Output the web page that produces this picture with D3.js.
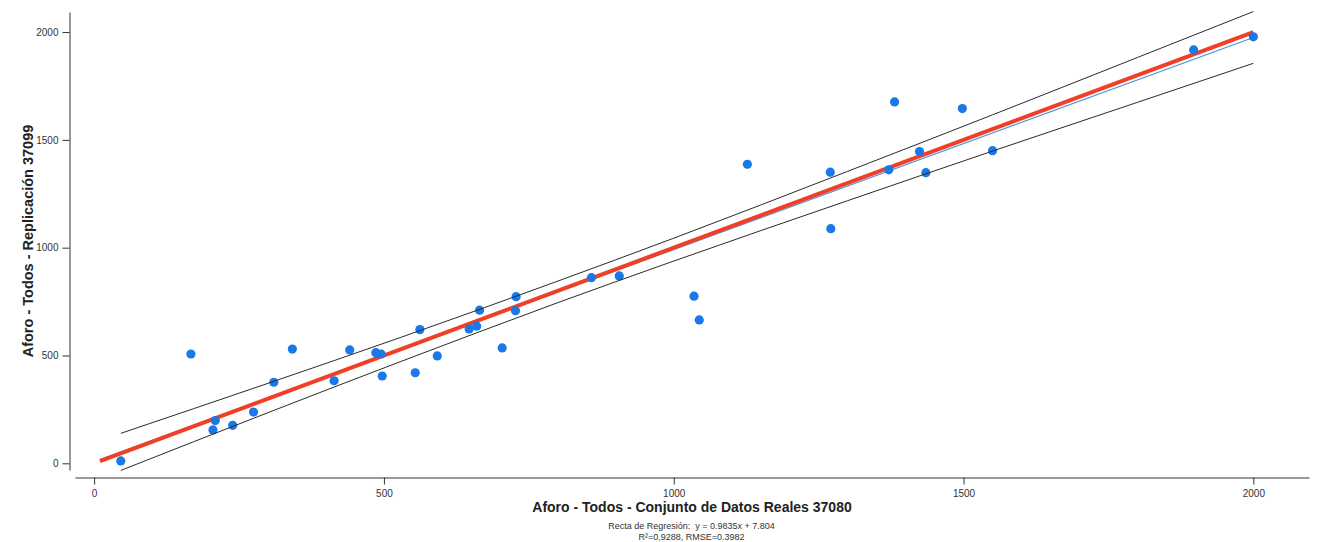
<!DOCTYPE html>
<html><head><meta charset="utf-8">
<script src="https://cdn.jsdelivr.net/npm/d3@7/dist/d3.min.js"></script>
<style>
body{margin:0;background:#fff}
svg{display:block}
text{font-family:"Liberation Sans",Arial,sans-serif}
</style>
</head><body>
<svg id="chart" width="1322" height="542"></svg>
<script>
// ---- data ----
const realValues = [46,167,205,209,239,275,310,342,414,441,486,495,497,554,562,592,647,660,665,704,727,728,858,906,1035,1044,1127,1270,1271,1371,1381,1424,1435,1498,1550,1897,2000];
const replValues = [11,507,155,198,176,238,376,530,383,526,513,507,405,420,620,498,623,636,710,535,708,773,861,869,775,665,1387,1350,1088,1361,1676,1446,1348,1645,1450,1917,1978];
const identityX = [10, 2000];
const identityY = [10, 2000];
const regressionX = [10, 2000];
const regressionY = [17.6, 1974.8];
const bandX = [46, 300, 528, 800, 1000, 1300, 1550, 1800, 2000];
const bandUpper = [139, 371, 583, 845, 1044, 1354, 1616, 1882, 2095];
const bandLower = [-33, 235, 471, 745, 938, 1218, 1448, 1674, 1855];
const majorTicks = [0, 500, 1000, 1500, 2000];
const minorTicks = [0,100,200,300,400,500,600,700,800,900,1000,1100,1200,1300,1400,1500,1600,1700,1800,1900,2000];
const xTitle = "Aforo - Todos - Conjunto de Datos Reales 37080";
const yTitle = "Aforo - Todos - Replicación 37099";
const noteLine1 = "Recta de Regresión:  y = 0.9835x + 7.804";
const noteLine2 = "R²=0,9288, RMSE=0.3982";

const svg = d3.select("#chart");
const x = d3.scaleLinear().domain([-33, 2096]).range([75, 1309]);
const y = d3.scaleLinear().domain([-31, 2093]).range([470, 12]);

// axes
const xAxisY = 477.5, yAxisX = 69.5;
const gx = svg.append("g").attr("transform", `translate(0,${xAxisY})`);
gx.call(d3.axisBottom(x).tickValues(minorTicks).tickSize(3.5).tickSizeOuter(0).tickFormat(""));
gx.call(d3.axisBottom(x).tickValues(majorTicks).tickSize(7).tickSizeOuter(0).tickPadding(5).tickFormat(d3.format("d")));
const gy = svg.append("g").attr("transform", `translate(${yAxisX},0)`);
gy.call(d3.axisLeft(y).tickValues(minorTicks).tickSize(3.5).tickSizeOuter(0).tickFormat(""));
gy.call(d3.axisLeft(y).tickValues(majorTicks).tickSize(7).tickSizeOuter(0).tickPadding(4).tickFormat(d3.format("d")));
svg.selectAll(".domain").attr("stroke", "#333");
svg.selectAll(".tick line").attr("stroke", "#333");
svg.selectAll(".tick text").attr("font-family", "Liberation Sans, Arial, sans-serif").attr("font-size", 10).attr("fill", "#333");

// lines
const line = d3.line().x(d => x(d[0])).y(d => y(d[1]));
const smooth = d3.line().x(d => x(d[0])).y(d => y(d[1])).curve(d3.curveMonotoneX);

svg.append("path").datum(regressionX.map((v, i) => [v, regressionY[i]]))
  .attr("d", line).attr("fill", "none").attr("stroke", "#4d94e0").attr("stroke-width", 1.2);
svg.append("path").datum(identityX.map((v, i) => [v, identityY[i]]))
  .attr("d", line).attr("fill", "none").attr("stroke", "#f03f26").attr("stroke-width", 4);

// points
svg.append("g").selectAll("circle").data(realValues.map((v, i) => [v, replValues[i]]))
  .join("circle").attr("cx", d => x(d[0])).attr("cy", d => y(d[1])).attr("r", 4.6)
  .attr("fill", "#1a78e8");

// bands
svg.append("path").datum(bandX.map((v, i) => [v, bandUpper[i]]))
  .attr("d", smooth).attr("fill", "none").attr("stroke", "#2a2a2a").attr("stroke-width", 1);
svg.append("path").datum(bandX.map((v, i) => [v, bandLower[i]]))
  .attr("d", smooth).attr("fill", "none").attr("stroke", "#2a2a2a").attr("stroke-width", 1);

// titles
svg.append("text").attr("x", 692).attr("y", 512).attr("text-anchor", "middle")
  .attr("font-size", 14).attr("font-weight", "bold").attr("fill", "#222").text(xTitle);
svg.append("text").attr("transform", "translate(33,241) rotate(-90)").attr("text-anchor", "middle")
  .attr("font-size", 14.5).attr("font-weight", "bold").attr("fill", "#222").text(yTitle);
svg.append("text").attr("x", 691.5).attr("y", 528.5).attr("text-anchor", "middle").style("white-space", "pre")
  .attr("font-size", 9).attr("fill", "#333").text(noteLine1);
svg.append("text").attr("x", 691.5).attr("y", 540).attr("text-anchor", "middle")
  .attr("font-size", 9).attr("fill", "#333").text(noteLine2);
</script>
</body></html>
